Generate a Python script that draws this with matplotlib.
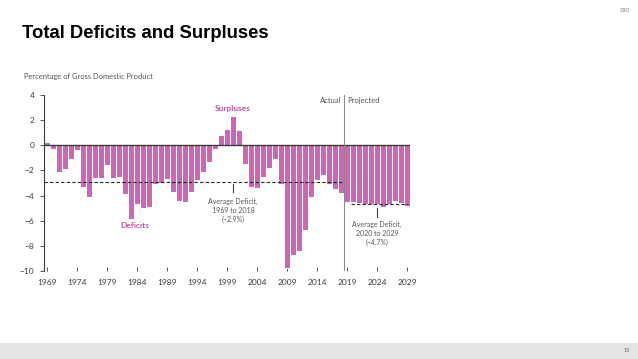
import matplotlib
matplotlib.use("Agg")
import matplotlib.pyplot as plt

years = list(range(1969, 2030))
actual = [0.3, -0.3, -2.1, -1.9, -1.1, -0.4, -3.3, -4.1, -2.6, -2.6,
          -1.6, -2.6, -2.5, -3.9, -5.9, -4.7, -5.0, -4.9, -3.1, -3.0,
          -2.7, -3.7, -4.4, -4.5, -3.7, -2.8, -2.1, -1.3, -0.3, 0.8,
          1.3, 2.3, 1.2, -1.5, -3.3, -3.4, -2.5, -1.8, -1.1, -3.1,
          -9.8, -8.7, -8.4, -6.7, -4.1, -2.8, -2.4, -3.1, -3.5, -3.8]
projected = [-4.5, -4.5, -4.6, -4.7, -4.7, -4.7, -4.9, -4.7, -4.4, -4.6, -4.8]
values = actual + projected
avg_hist = -2.9
avg_proj = -4.7
xticks = list(range(1969, 2030, 5))
yticks = list(range(-10, 5, 2))

BAR = "#cc66b5"
LABEL = "#c4519f"
DARK = "#3a3a3a"
GRAY = "#555555"
FONT = "Lato"

fig = plt.figure(figsize=(6.38, 3.59), dpi=100)
fig.patch.set_facecolor("white")

W, H = 638, 359
ax = fig.add_axes([44 / W, 1 - 271 / H, (410 - 44) / W, (271 - 95) / H])
ax.bar(years, values, width=1.0, color=BAR, edgecolor="white", linewidth=0.7, zorder=2)
ax.set_xlim(1968.5, 2029.5)
ax.set_ylim(-10, 4)

ax.axhline(0, color=DARK, lw=1.0, zorder=3)
ax.plot([1968.5, 2018.4], [avg_hist, avg_hist], ls=(0, (3, 2)), color="#222222", lw=0.8, zorder=4)
ax.plot([2019.7, 2029.2], [avg_proj, avg_proj], ls=(0, (3, 2)), color="#222222", lw=0.8, zorder=4)
ax.axvline(2018.5, color="#8a8a8a", lw=0.8, zorder=3)

for s in ["top", "right", "bottom"]:
    ax.spines[s].set_visible(False)
ax.spines["left"].set_color(DARK)
ax.spines["left"].set_linewidth(0.8)

ax.set_yticks(yticks)
ax.set_yticklabels([str(v).replace("-", "\u2212") for v in yticks])
ax.set_xticks(xticks)
ax.set_xticklabels([str(v) for v in xticks])
ax.tick_params(axis="y", direction="out", length=3, width=0.6, color=DARK,
               labelsize=6, labelcolor=DARK, pad=4)
ax.tick_params(axis="x", direction="in", length=3, width=0.6, color=DARK,
               labelsize=6, labelcolor=DARK, pad=6)
for lab in ax.get_xticklabels() + ax.get_yticklabels():
    lab.set_family(FONT)

# annotations
ax.text(2018.0, 3.6, "Actual", ha="right", va="center", fontsize=5.5, color=GRAY, family=FONT)
ax.text(2019.0, 3.6, "Projected", ha="left", va="center", fontsize=5.5, color=GRAY, family=FONT)
ax.text(2000.0, 2.95, "Surpluses", ha="center", va="center", fontsize=6, color=LABEL,
        family=FONT, fontweight="bold")
ax.text(1983.7, -6.35, "Deficits", ha="center", va="center", fontsize=6, color=LABEL,
        family=FONT, fontweight="bold")

ax.plot([2000, 2000], [-3.1, -3.75], color=DARK, lw=0.8)
ax.text(2000, -4.15, "Average Deficit,\n1969 to 2018\n(\u22122.9%)", ha="center", va="top",
        fontsize=5, color=GRAY, family=FONT, linespacing=1.35)
ax.plot([2024, 2024], [-4.95, -5.7], color=DARK, lw=0.8)
ax.text(2024, -6.0, "Average Deficit,\n2020 to 2029\n(\u22124.7%)", ha="center", va="top",
        fontsize=5, color=GRAY, family=FONT, linespacing=1.35)

# page elements
fig.text(22 / W, 1 - 34 / H, "Total Deficits and Surpluses", ha="left", va="center",
         fontsize=13.3, fontweight="bold", family="Liberation Sans", color="black")
fig.text(24 / W, 1 - 76 / H, "Percentage of Gross Domestic Product", ha="left", va="center",
         fontsize=5.4, color=GRAY, family=FONT)
fig.text(630 / W, 1 - 11 / H, "CBO", ha="right", va="center", fontsize=3.5,
         color="#777777", family=FONT)
fig.patches.append(plt.Rectangle((0, 0), 1, 16 / H, transform=fig.transFigure,
                                 facecolor="#e4e4e4", edgecolor="none", zorder=0))
fig.text(630 / W, 1 - 351 / H, "15", ha="right", va="center", fontsize=4,
         color="#666666", family=FONT)

fig.savefig("out.png", dpi=100, facecolor="white")
